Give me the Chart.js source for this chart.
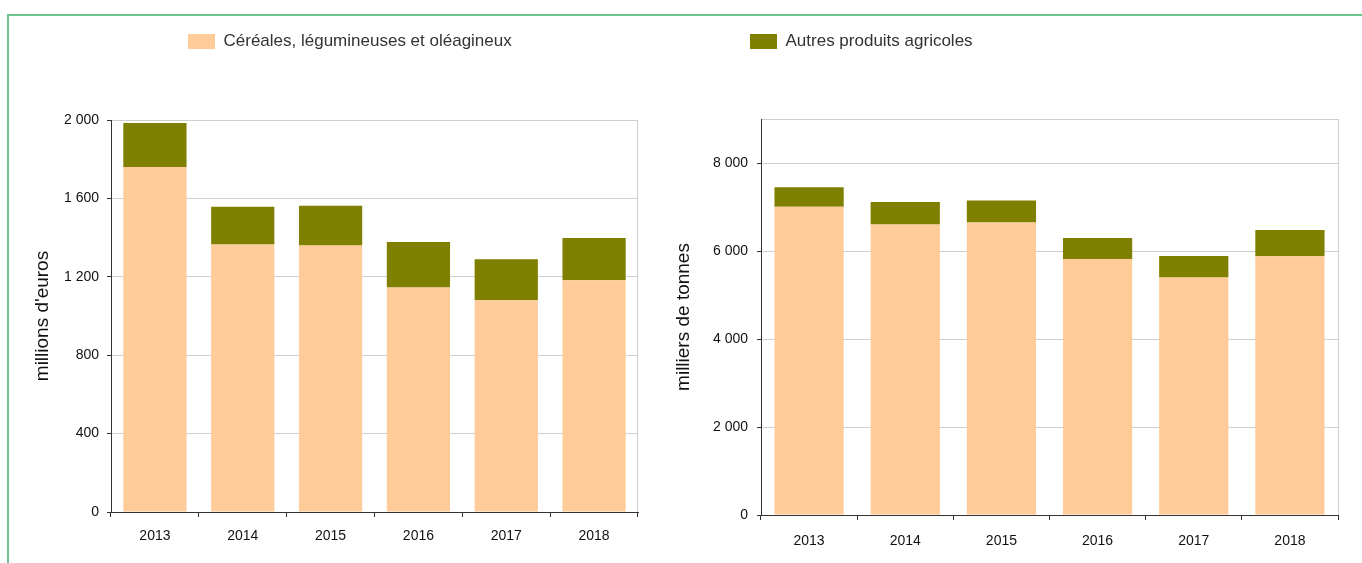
<!DOCTYPE html>
<html lang="fr">
<head>
<meta charset="utf-8">
<title>Exportations agricoles</title>
<script src="https://cdn.jsdelivr.net/npm/chart.js@4.4.1/dist/chart.umd.min.js"></script>
<style>
  html, body { margin: 0; width: 1362px; height: 563px; overflow: hidden; background: #fff; }
  #frame { position: absolute; left: 7px; top: 14px; width: 1400px; height: 600px;
           border-top: 2px solid #6cc68e; border-left: 2px solid #6cc68e; }
  .box { position: absolute; top: 0; height: 563px; }
  #valeur { left: 0; width: 665px; }
  #volume { left: 665px; width: 697px; }
</style>
</head>
<body>
<div id="frame"></div>
<div class="box" id="valeur"><canvas id="chartValeur"></canvas></div>
<div class="box" id="volume"><canvas id="chartVolume"></canvas></div>
<script>
// données
const years = ['2013', '2014', '2015', '2016', '2017', '2018'];
const seriesNames = ['Céréales, légumineuses et oléagineux', 'Autres produits agricoles'];
const cerealesEuros = [1760, 1365, 1360, 1146, 1080, 1182];
const autresEuros = [225, 193, 202, 232, 209, 216];
const cerealesTonnes = [7005, 6605, 6650, 5820, 5395, 5880];
const autresTonnes = [445, 510, 495, 475, 490, 600];
const ticksEuros = [0, 400, 800, 1200, 1600, 2000];
const ticksTonnes = [0, 2000, 4000, 6000, 8000];

const BEIGE = '#ffcb99';
const OLIVE = '#808000';
const GRID = '#cfcfcf';
const AXIS = '#333333';
const NARROW = "'Liberation Sans Narrow', 'Arial Narrow', 'Liberation Sans', sans-serif";

// "2 000"
const fmt = v => String(v).replace(/\B(?=(\d{3})+(?!\d))/g, ' ');

// places the legend row at a given x and fixes its height
const legendBox = {
  id: 'legendBox',
  beforeInit(chart, args, opts) {
    const fit = chart.legend.fit;
    chart.legend.fit = function () {
      fit.call(this);
      this.height = opts.height;
    };
  },
  afterLayout(chart, args, opts) {
    const lg = chart.legend;
    const shift = opts.x - lg.options.labels.padding - lg.left;
    lg.left += shift;
    lg.right += shift;
  }
};

function makeChart(canvasId, o) {
  return new Chart(document.getElementById(canvasId), {
    type: 'bar',
    data: {
      labels: years,
      datasets: [
        { label: seriesNames[0], data: o.bottom, backgroundColor: BEIGE, borderWidth: 0 },
        { label: seriesNames[1], data: o.top, backgroundColor: OLIVE, borderWidth: 0 }
      ]
    },
    options: {
      responsive: true,
      maintainAspectRatio: false,
      animation: false,
      layout: { padding: { left: o.padLeft, right: o.padRight, top: 27, bottom: 0 } },
      datasets: { bar: { categoryPercentage: 1, barPercentage: 0.72 } },
      plugins: {
        tooltip: { enabled: false },
        legendBox: { x: o.legendX, height: o.legendH },
        legend: {
          position: 'top',
          align: 'start',
          labels: {
            filter: item => item.datasetIndex === o.legendIndex,
            boxWidth: 27,
            boxHeight: 15,
            padding: 6,
            color: '#333',
            font: { family: NARROW, size: 17 }
          }
        }
      },
      scales: {
        x: {
          stacked: true,
          afterFit: s => { s.height = o.xHeight; },
          border: { color: AXIS, width: 1 },
          grid: {
            offset: true,
            drawOnChartArea: true,
            color: c => c.type === 'tick' ? 'rgba(0,0,0,0)' : GRID,
            tickColor: AXIS,
            tickLength: 5
          },
          ticks: { color: '#111', padding: o.xPad, font: { family: NARROW, size: 14 } }
        },
        y: {
          stacked: true,
          min: 0,
          max: o.max,
          afterFit: s => { s.width = o.yWidth; },
          afterBuildTicks: s => {
            s.ticks = o.ticks.map(v => ({ value: v }));
            if (o.max > o.ticks[o.ticks.length - 1]) s.ticks.push({ value: o.max });
          },
          border: { color: AXIS, width: 1 },
          grid: {
            color: c => c.tick && c.tick.value === 0 ? AXIS : GRID,
            tickColor: c => c.tick && o.ticks.includes(c.tick.value) ? AXIS : 'rgba(0,0,0,0)',
            tickLength: 4
          },
          ticks: {
            color: '#111',
            padding: o.yPad,
            font: { family: NARROW, size: 14 },
            callback: v => o.ticks.includes(v) ? fmt(v) : ''
          },
          title: {
            display: true,
            text: o.title,
            color: '#111',
            padding: { top: o.titleTop, bottom: 0 },
            font: { family: "'Liberation Sans', Arial, sans-serif", size: 19 }
          }
        }
      }
    },
    plugins: [legendBox]
  });
}

makeChart('chartValeur', {
  bottom: cerealesEuros, top: autresEuros,
  max: 2000, ticks: ticksEuros,
  title: "millions d'euros",
  padLeft: 30, padRight: 27, yWidth: 81, xHeight: 51,
  titleTop: 1, yPad: 8, xPad: 11,
  legendIndex: 0, legendX: 188, legendH: 93
});

makeChart('chartVolume', {
  bottom: cerealesTonnes, top: autresTonnes,
  max: 9000, ticks: ticksTonnes,
  title: 'milliers de tonnes',
  padLeft: 7, padRight: 24, yWidth: 89, xHeight: 48,
  titleTop: 0, yPad: 9, xPad: 13,
  legendIndex: 1, legendX: 750 - 665, legendH: 92
});
</script>
</body>
</html>
